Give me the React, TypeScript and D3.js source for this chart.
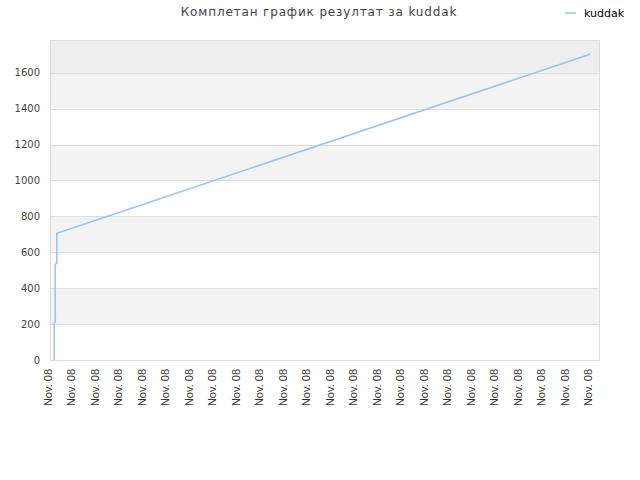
import { useEffect, useRef } from "react";
import * as d3 from "d3";

// hours of the day (x) and total score (y) for the single player
const hours = [0.17, 0.17, 0.21, 0.21, 0.28, 0.28, 22.97];
const scores = [0, 207, 212, 533, 540, 705, 1703];

const tickHours = d3.range(24);
const tickLabels = tickHours.map(() => "Nov. 08");
const yTicks = [0, 200, 400, 600, 800, 1000, 1200, 1400, 1600];

const title = "Комплетан график резултат за kuddak";
const seriesName = "kuddak";

const App = () => {
  const svgRef = useRef<SVGSVGElement>(null);

  useEffect(() => {
    if (!svgRef.current) return;
    const width = 640;
    const height = 480;
    const margin = { top: 40, right: 40, bottom: 120, left: 50 };
    const innerWidth = width - margin.left - margin.right;
    const innerHeight = height - margin.top - margin.bottom;

    const svg = d3.select(svgRef.current);
    svg.selectAll("*").remove();

    const x = d3.scaleLinear().domain([-0.01, 23.39]).range([0, innerWidth]);
    const y = d3.scaleLinear().domain([0, 1782]).range([innerHeight, 0]);

    const g = svg.append("g").attr("transform", `translate(${margin.left}, ${margin.top})`);

    // alternating bands
    const bands: [number, number, string][] = [];
    for (let i = 1; i < yTicks.length - 1; i += 2) {
      bands.push([yTicks[i], yTicks[i + 1], "#f3f3f3"]);
    }
    bands.push([yTicks[yTicks.length - 1], y.domain()[1], "#eeeeee"]);

    g.selectAll(".band")
      .data(bands)
      .enter()
      .append("rect")
      .attr("x", 0)
      .attr("width", innerWidth)
      .attr("y", (d) => y(d[1]))
      .attr("height", (d) => y(d[0]) - y(d[1]))
      .attr("fill", (d) => d[2]);

    // grid
    g.selectAll(".grid")
      .data(yTicks.slice(1))
      .enter()
      .append("line")
      .attr("x1", 0)
      .attr("x2", innerWidth)
      .attr("y1", (d) => Math.round(y(d)) + 0.5)
      .attr("y2", (d) => Math.round(y(d)) + 0.5)
      .attr("stroke", "#dddddd");

    g.append("rect")
      .attr("x", 0.5)
      .attr("y", 0.5)
      .attr("width", innerWidth - 1)
      .attr("height", innerHeight)
      .attr("fill", "none")
      .attr("stroke", "#dddddd");

    // y labels
    g.selectAll(".ylab")
      .data(yTicks)
      .enter()
      .append("text")
      .attr("x", -10)
      .attr("y", (d) => y(d))
      .attr("dy", "0.35em")
      .attr("text-anchor", "end")
      .attr("font-family", "DejaVu Sans")
      .attr("font-size", 10)
      .attr("fill", "#444")
      .text((d) => d);

    // x labels
    g.selectAll(".xlab")
      .data(tickHours)
      .enter()
      .append("text")
      .attr("transform", (d) => `translate(${x(d) - 2.5}, ${innerHeight + 9}) rotate(-90)`)
      .attr("dy", "0.35em")
      .attr("text-anchor", "end")
      .attr("font-family", "Liberation Sans")
      .attr("font-size", 11)
      .attr("fill", "#333")
      .text((_, i) => tickLabels[i]);

    const line = d3
      .line<number>()
      .x((d) => x(d))
      .y((_, i) => y(scores[i]));

    g.append("path")
      .datum(hours)
      .attr("fill", "none")
      .attr("stroke", "#94c4f6")
      .attr("stroke-width", 1.5)
      .attr("d", line);

    // title
    svg
      .append("text")
      .attr("x", 319)
      .attr("y", 16)
      .attr("text-anchor", "middle")
      .attr("font-family", "DejaVu Sans")
      .attr("font-size", 12)
      .attr("letter-spacing", 0.85)
      .attr("fill", "#444")
      .text(title);

    // legend
    const lg = svg.append("g").attr("transform", "translate(565, 13)");
    lg.append("line").attr("x1", 0).attr("x2", 11).attr("stroke", "#94c4f6").attr("stroke-width", 1.5);
    lg.append("text")
      .attr("x", 19)
      .attr("dy", "0.35em")
      .attr("font-family", "DejaVu Sans")
      .attr("font-size", 11)
      .attr("fill", "#000")
      .text(seriesName);
  }, []);

  return (
    <div style={{ position: "absolute", left: 0, top: 0 }}>
      <svg ref={svgRef} width={640} height={480} style={{ display: "block", background: "#fff" }} />
    </div>
  );
};

export default App;
